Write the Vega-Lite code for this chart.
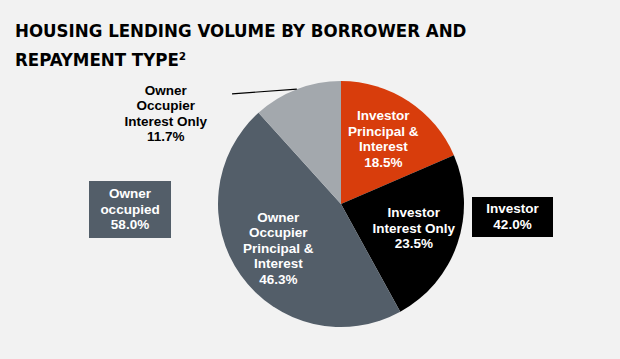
{
  "$schema": "https://vega.github.io/schema/vega-lite/v6.json",
  "width": 558,
  "height": 310,
  "autosize": {"type": "none"},
  "padding": {"left": 62, "top": 49, "right": 0, "bottom": 0},
  "background": "#f2f2f2",
  "config": {"view": {"stroke": null}},
  "title": {
    "text": ["HOUSING LENDING VOLUME BY BORROWER AND", "REPAYMENT TYPE²"],
    "anchor": "start",
    "frame": "group",
    "font": "DejaVu Sans Condensed",
    "fontWeight": "bold",
    "fontSize": 18.5,
    "lineHeight": 29,
    "color": "#000000",
    "offset": 0,
    "dx": -47,
    "dy": 91
  },
  "datasets": {
    "slices": [
      {"name": "Investor Principal & Interest", "label": "Investor|Principal &|Interest", "share": 18.5, "order": 1},
      {"name": "Investor Interest Only", "label": "Investor|Interest Only", "share": 23.5, "order": 2},
      {"name": "Owner Occupier Principal & Interest", "label": "Owner|Occupier|Principal &|Interest", "share": 46.3, "order": 3},
      {"name": "Owner Occupier Interest Only", "label": "Owner|Occupier|Interest Only", "share": 11.7, "order": 4}
    ],
    "groups": [
      {"group": "Owner occupied", "label": "Owner|occupied", "share": 58.0},
      {"group": "Investor", "label": "Investor", "share": 42.0}
    ]
  },
  "layer": [
    {
      "data": {"name": "slices"},
      "mark": {"type": "arc", "outerRadius": 123},
      "encoding": {
        "theta": {"field": "share", "type": "quantitative", "stack": true},
        "order": {"field": "order", "type": "quantitative"},
        "color": {
          "field": "name",
          "type": "nominal",
          "scale": {
            "domain": ["Investor Principal & Interest", "Investor Interest Only", "Owner Occupier Principal & Interest", "Owner Occupier Interest Only"],
            "range": ["#d83d0c", "#000000", "#535e69", "#a3a8ad"]
          },
          "legend": null
        }
      }
    },
    {
      "data": {"name": "slices"},
      "transform": [{"calculate": "datum.label + '|' + format(datum.share, '.1f') + '%'", "as": "lbl"}],
      "mark": {"type": "text", "radius": 77, "dy": {"expr": "-7.75*(length(split(datum.lbl,'|'))-1)"}, "font": "Liberation Sans", "fontWeight": "bold", "fontSize": 13.5, "lineHeight": 15.5, "lineBreak": "|", "fill": "#ffffff", "align": "center", "baseline": "middle"},
      "encoding": {
        "theta": {"field": "share", "type": "quantitative", "stack": true},
        "order": {"field": "order", "type": "quantitative"},
        "text": {"field": "lbl", "type": "nominal"},
        "opacity": {"condition": {"test": "datum.order == 4", "value": 0}, "value": 1}
      }
    },
    {
      "data": {"name": "slices"},
      "transform": [{"calculate": "datum.label + '|' + format(datum.share, '.1f') + '%'", "as": "lbl"}],
      "mark": {"type": "text", "radius": 197, "thetaOffset": -0.728, "dy": {"expr": "-7.75*(length(split(datum.lbl,'|'))-1)"}, "font": "Liberation Sans", "fontWeight": "bold", "fontSize": 13.5, "lineHeight": 15.5, "lineBreak": "|", "fill": "#000000", "align": "center", "baseline": "middle"},
      "encoding": {
        "theta": {"field": "share", "type": "quantitative", "stack": true},
        "order": {"field": "order", "type": "quantitative"},
        "text": {"field": "lbl", "type": "nominal"},
        "opacity": {"condition": {"test": "datum.order == 4", "value": 1}, "value": 0}
      }
    },
    {
      "data": {"name": "slices"},
      "transform": [
        {"joinaggregate": [{"op": "sum", "field": "share", "as": "total"}]},
        {"window": [{"op": "sum", "field": "share", "as": "cum"}], "sort": [{"field": "order"}], "frame": [null, 0]},
        {"calculate": "2*PI*(datum.cum - datum.share/2)/datum.total", "as": "a"},
        {"filter": "datum.order == 4"},
        {"calculate": "sin(datum.a)", "as": "px1"},
        {"calculate": "cos(datum.a)", "as": "py1"},
        {"calculate": "1.26*sin(datum.a-0.412)", "as": "px2"},
        {"calculate": "1.26*cos(datum.a-0.412)", "as": "py2"}
      ],
      "mark": {"type": "rule", "stroke": "#000000", "strokeWidth": 1.2},
      "encoding": {
        "x": {"field": "px1", "type": "quantitative", "scale": {"domain": [-2.2683, 2.2683], "nice": false, "zero": false}, "axis": null},
        "x2": {"field": "px2"},
        "y": {"field": "py1", "type": "quantitative", "scale": {"domain": [-1.2602, 1.2602], "nice": false, "zero": false}, "axis": null},
        "y2": {"field": "py2"}
      }
    },
    {
      "data": {"name": "groups"},
      "transform": [{"filter": "datum.group == 'Owner occupied'"}],
      "mark": {"type": "rect", "width": 82, "height": 57, "fill": "#535e69"},
      "encoding": {
        "x": {"field": "group", "type": "nominal", "scale": {"type": "point", "domain": ["Owner occupied", "Investor"], "range": [68, 450.5], "padding": 0}, "axis": null},
        "y": {"field": "group", "type": "nominal", "scale": {"type": "point", "domain": ["Owner occupied", "Investor"], "range": [160.5, 168], "padding": 0}, "axis": null}
      }
    },
    {
      "data": {"name": "groups"},
      "transform": [{"filter": "datum.group == 'Investor'"}],
      "mark": {"type": "rect", "width": 81, "height": 40, "fill": "#000000"},
      "encoding": {
        "x": {"field": "group", "type": "nominal", "scale": {"type": "point", "domain": ["Owner occupied", "Investor"], "range": [68, 450.5], "padding": 0}, "axis": null},
        "y": {"field": "group", "type": "nominal", "scale": {"type": "point", "domain": ["Owner occupied", "Investor"], "range": [160.5, 168], "padding": 0}, "axis": null}
      }
    },
    {
      "data": {"name": "groups"},
      "transform": [{"calculate": "datum.label + '|' + format(datum.share, '.1f') + '%'", "as": "lbl"}],
      "mark": {"type": "text", "dy": {"expr": "-7.75*(length(split(datum.lbl,'|'))-1)"}, "font": "Liberation Sans", "fontWeight": "bold", "fontSize": 13.5, "lineHeight": 15.5, "lineBreak": "|", "fill": "#ffffff", "align": "center", "baseline": "middle"},
      "encoding": {
        "x": {"field": "group", "type": "nominal", "scale": {"type": "point", "domain": ["Owner occupied", "Investor"], "range": [68, 450.5], "padding": 0}, "axis": null},
        "y": {"field": "group", "type": "nominal", "scale": {"type": "point", "domain": ["Owner occupied", "Investor"], "range": [160.5, 168], "padding": 0}, "axis": null},
        "text": {"field": "lbl", "type": "nominal"}
      }
    }
  ],
  "resolve": {"scale": {"x": "independent", "y": "independent"}}
}
